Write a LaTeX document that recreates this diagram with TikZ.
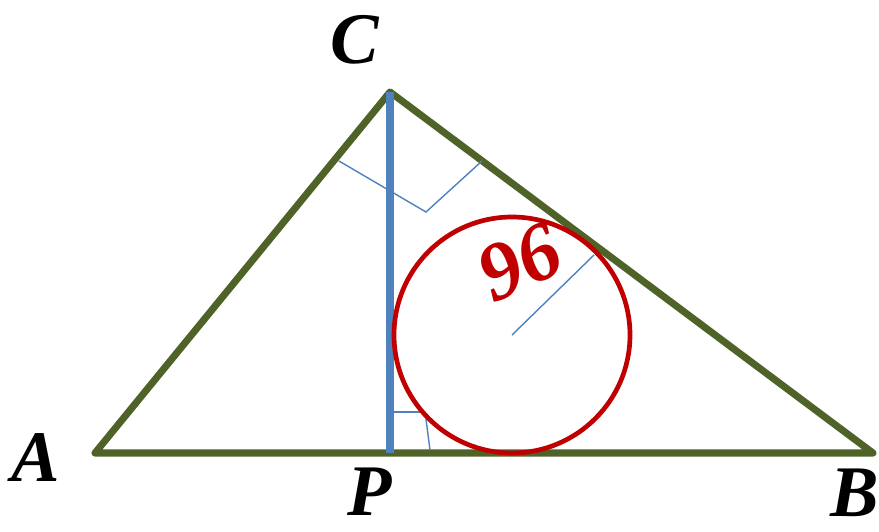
\documentclass[tikz,border=0pt]{standalone}
\usepackage{fontspec}
\setmainfont{Liberation Serif}
\usetikzlibrary{calc}

\definecolor{olive}{HTML}{4F6228}
\definecolor{steel}{HTML}{4F81BD}
\definecolor{darkred}{HTML}{C00000}

\tikzset{
  side/.style={draw=olive, line width=6pt, line join=round, line cap=round},
  height/.style={draw=steel, line width=6pt},
  thin/.style={draw=steel, line width=1.2pt},
  vertex/.style={font=\fontsize{62}{62}\selectfont\bfseries\itshape, inner sep=0pt}
}

\begin{document}
\begin{tikzpicture}[x=0.03cm, y=-0.03cm]
  \useasboundingbox (0,0) rectangle (879,531);

  % Points of the triangle
  \coordinate (A) at (95,453);
  \coordinate (B) at (873,453);
  \coordinate (C) at (390,92);
  \coordinate (P) at (390,453);
  \coordinate (O) at (512,335);

  % Triangle
  \draw[side] (A) -- (B) -- (C) -- cycle;

  % Perpendiculars to AC and BC
  \coordinate (m1) at (339,161);
  \coordinate (m2) at (426,212);
  \coordinate (m3) at (482,161);
  \draw[thin] (m1) -- (m2) -- (m3);

  % Height CP
  \draw[height] (C) -- (P);

  % Small mark near P
  \coordinate (r1) at (393,412);
  \coordinate (r2) at (424,412);
  \coordinate (r3) at (426,419);
  \coordinate (r4) at (430,450);
  \draw[thin] (r1) -- (r2);
  \draw[thin] (r3) -- (r4);

  % Incircle and radius
  \draw[darkred, line width=4pt] (O) circle (118);
  \coordinate (T) at (594,255);
  \draw[thin] (O) -- (T);
  \node[vertex, font=\fontsize{70}{70}\selectfont\bfseries\itshape, text=darkred, rotate=24] (r) at (520,262) {96};

  % Labels
  \node[vertex] (lC) at (355,40) {C};
  \node[vertex] (lA) at (36,458) {A};
  \node[vertex] (lP) at (370,492) {P};
  \node[vertex] (lB) at (855,493) {B};
\end{tikzpicture}
\end{document}
